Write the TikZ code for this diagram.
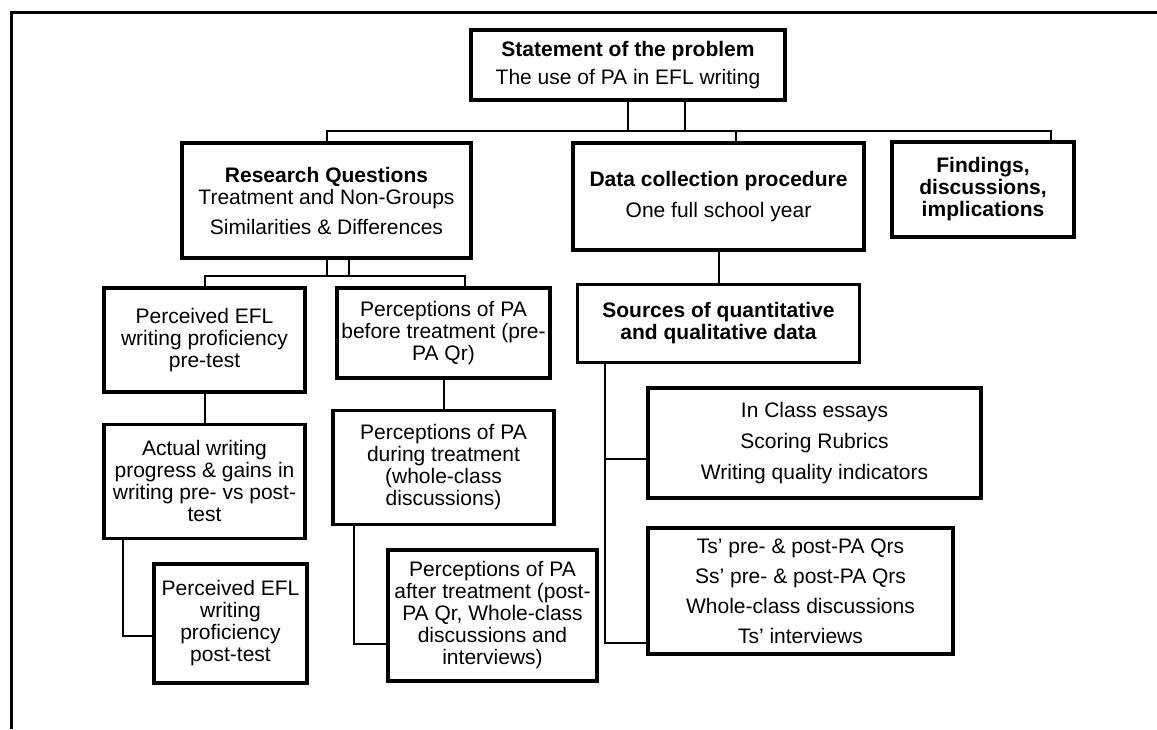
\documentclass[tikz,border=0pt]{standalone}
\usepackage{fontspec}
\setmainfont{Liberation Sans}
\usetikzlibrary{positioning}
\tikzset{
  box/.style={rectangle, draw=black, line width=1.7pt, align=center,
    inner sep=0pt, font=\fontsize{10.5}{11}\selectfont},
  line/.style={line width=1pt, color=black}
}

\begin{document}
\begin{tikzpicture}[x=0.5pt, y=-0.5pt]
  \useasboundingbox (0,0) rectangle (1157,729);
  \draw[line width=1.5pt] (11,729) -- (11,12) -- (1157,12);

  % top level
  \node[box, minimum width=157pt, minimum height=35pt] (stmt) at (628,65)
    {\textbf{Statement of the problem}\\[3pt] The use of PA in EFL writing};
  \node[box, minimum width=144.5pt, minimum height=57.5pt] (rq) at (326.5,200.5)
    {\textbf{Research Questions}\\ Treatment and Non-Groups\\[4pt] Similarities \& Differences};
  \node[box, minimum width=145.5pt, minimum height=53.5pt] (dc) at (718.5,196.5)
    {\textbf{Data collection procedure}\\[4.5pt] One full school year};
  \node[box, minimum width=91pt, minimum height=47.5pt, font=\fontsize{10.5}{11}\bfseries] (find) at (983,189.5)
    {Findings,\\ discussions,\\ implications};

  % research questions branch
  \node[box, minimum width=100.5pt, minimum height=52pt] (pre) at (204.5,340)
    {Perceived EFL\\ writing proficiency\\ pre-test};
  \node[box, below=14.5pt of pre, minimum width=100.5pt, minimum height=57pt] (act)
    {Actual writing\\ progress \& gains in\\ writing pre- vs post-\\ test};
  \node[box, minimum width=76.5pt, minimum height=59.5pt] (post) at (230.5,623.5)
    {Perceived EFL\\ writing\\ proficiency\\ post-test};
  \node[box, minimum width=106.5pt, minimum height=45pt] (ppre) at (443.5,333)
    {Perceptions of PA\\ before treatment (pre-\\ PA Qr)};
  \node[box, below=14.5pt of ppre, minimum width=110.5pt, minimum height=57pt] (pdur)
    {Perceptions of PA\\ during treatment\\ (whole-class\\ discussions)};
  \node[box, minimum width=104.5pt, minimum height=65.5pt] (paft) at (492.5,615.5)
    {Perceptions of PA\\ after treatment (post-\\ PA Qr, Whole-class\\ discussions and\\ interviews)};

  % data collection branch
  \node[box, below=15.5pt of dc, minimum width=141pt, minimum height=39pt, font=\fontsize{10.5}{11}\bfseries] (src)
    {Sources of quantitative\\ and qualitative data};
  \node[box, minimum width=166.5pt, minimum height=55pt] (ess) at (814.5,443)
    {In Class essays\\[4.5pt] Scoring Rubrics\\[4.5pt] Writing quality indicators};
  \node[box, minimum width=152.5pt, minimum height=63pt] (ts) at (800.5,591)
    {Ts’ pre- \& post-PA Qrs\\[4pt] Ss’ pre- \& post-PA Qrs\\[4pt] Whole-class discussions\\[4pt] Ts’ interviews};

  \coordinate (bus) at (0,131);
  \coordinate (rqbus) at (0,276);

  \draw[line] (stmt.south) -- (stmt.south |- bus);
  \draw[line] ([xshift=28.5pt]stmt.south) -- ([xshift=28.5pt]stmt.south |- bus);
  \draw[line] (rq.north) -- (rq.north |- bus) -| ([xshift=34pt]find.north);
  \draw[line] ([xshift=8.75pt]dc.north) -- ([xshift=8.75pt]dc.north |- bus);

  \draw[line] (rq.south) -- (rq.south |- rqbus);
  \draw[line] ([xshift=11.25pt]rq.south) -- ([xshift=11.25pt]rq.south |- rqbus);
  \draw[line] (pre.north) -- (pre.north |- rqbus) -| ([xshift=10.75pt]ppre.north);

  \draw[line] (pre) -- (act);
  \draw[line] ([xshift=10.5pt]act.south west) |- ([yshift=-6.25pt]post.west);
  \draw[line] (ppre) -- (pdur);
  \draw[line] ([xshift=11.5pt]pdur.south west) |- ([yshift=-14.25pt]paft.west);

  \draw[line] (dc) -- (src);
  \draw[line] ([xshift=14.5pt]src.south west) |- ([yshift=-8pt]ess.west);
  \draw[line] ([xshift=14.5pt]src.south west) |- ([yshift=-26pt]ts.west);
\end{tikzpicture}
\end{document}
